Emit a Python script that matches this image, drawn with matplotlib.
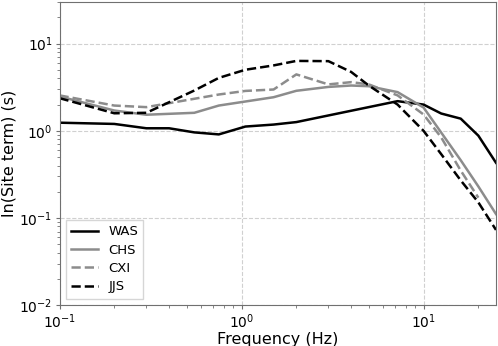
import numpy as np
from matplotlib import pyplot as plt

# frequencies (Hz) and site terms
freq_was = [0.1, 0.2, 0.3, 0.4, 0.55, 0.75, 1.05, 1.5, 2.0, 7.2, 10.0, 12.5, 16.0, 20.0, 25.0]
was = [1.24, 1.20, 1.07, 1.07, 0.96, 0.91, 1.12, 1.18, 1.26, 2.19, 2.0, 1.58, 1.38, 0.88, 0.43]

freq_chs = [0.1, 0.2, 0.3, 0.55, 0.75, 1.05, 1.5, 2.0, 3.0, 4.0, 5.0, 7.2, 10.0, 12.5, 16.0, 20.0, 25.0]
chs = [2.48, 1.71, 1.53, 1.61, 1.95, 2.17, 2.43, 2.88, 3.19, 3.31, 3.25, 2.78, 1.85, 0.955, 0.46, 0.23, 0.111]

freq_cxi = [0.1, 0.2, 0.3, 0.75, 1.05, 1.5, 2.0, 3.0, 4.0, 5.0, 7.2, 10.0, 12.5, 16.0, 20.0]
cxi = [2.55, 1.95, 1.87, 2.61, 2.87, 2.98, 4.44, 3.41, 3.62, 3.41, 2.55, 1.54, 0.84, 0.35, 0.171]

freq_jjs = [0.1, 0.2, 0.3, 0.55, 0.75, 1.05, 1.5, 2.0, 3.0, 4.0, 5.0, 7.2, 10.0, 12.5, 16.0, 20.0, 25.0]
jjs = [2.37, 1.59, 1.61, 2.9, 4.05, 5.02, 5.63, 6.34, 6.3, 4.74, 3.31, 2.0, 1.0, 0.54, 0.27, 0.151, 0.073]

fig = plt.figure(figsize=(4.98, 3.46), dpi=100)
ax = fig.add_axes([0.1195, 0.118, 0.8765, 0.876])

ax.loglog(freq_was, was, "-", color="black", lw=1.8, label="WAS")
ax.loglog(freq_chs, chs, "-", color="#8c8c8c", lw=1.8, label="CHS")
ax.loglog(freq_cxi, cxi, "--", color="#8c8c8c", lw=1.8, label="CXI")
ax.loglog(freq_jjs, jjs, "--", color="black", lw=1.8, label="JJS")

ax.set_xlim(0.1, 25)
ax.set_ylim(0.01, 30)
ax.grid(True, which="major", ls="--", color="#d0d0d0", lw=0.8)

for s in ax.spines.values():
    s.set_color("#707070")
ax.tick_params(which="both", colors="#707070", labelcolor="black", labelsize=10, pad=2)
ax.tick_params(which="major", length=3)
ax.tick_params(which="minor", length=2)

ax.set_xlabel("Frequency (Hz)", fontsize=11.5, labelpad=1)
ax.set_ylabel("ln(Site term) (s)", fontsize=11.5, labelpad=2)

ax.legend(loc="lower left", fontsize=9.5, labelspacing=0.4, handlelength=2.0,
          fancybox=False, edgecolor="#cccccc")

fig.savefig("out.png", dpi=100)
